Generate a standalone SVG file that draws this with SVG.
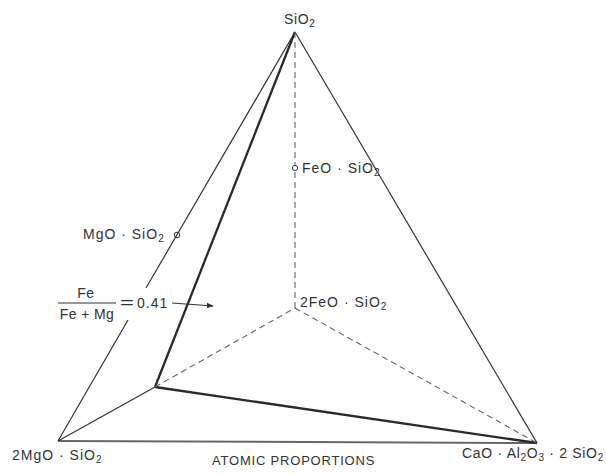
<svg xmlns="http://www.w3.org/2000/svg" width="606" height="475" viewBox="0 0 606 475">
<defs>
<style>
.t{font-family:"Liberation Sans",Arial,sans-serif;font-size:14px;fill:#333;letter-spacing:1px}
.s{font-size:10px}
.thin{stroke:#333;stroke-width:1.2;fill:none}
.thick{stroke:#2a2a2a;stroke-width:2.3;fill:none}
.dash{stroke:#666;stroke-width:1.1;stroke-dasharray:6 4;fill:none}
.base{stroke:#666;stroke-width:2;fill:none}
</style>
<marker id="ah" viewBox="0 0 10 10" refX="9" refY="5" markerWidth="7" markerHeight="7" orient="auto" markerUnits="userSpaceOnUse">
<path d="M0,1 L10,5 L0,9 Z" fill="#333"/>
</marker>
</defs>
<rect width="606" height="475" fill="#fff"/>
<g id="connectors">
<line class="thin" x1="295" y1="32" x2="146" y2="288"/>
<line class="thin" x1="128" y1="320" x2="58" y2="441"/>
<line class="thin" x1="295" y1="32" x2="537" y2="443"/>
<line class="base" x1="58" y1="441" x2="537" y2="443"/>
<line class="thin" x1="58" y1="441" x2="155" y2="387"/>
<line class="thick" x1="295" y1="32" x2="155" y2="387"/>
<line class="thick" x1="155" y1="387" x2="537" y2="443"/>
<line class="dash" x1="295" y1="32" x2="295" y2="308"/>
<line class="dash" x1="155" y1="387" x2="295" y2="308"/>
<line class="dash" x1="295" y1="308" x2="537" y2="443"/>
<line class="thin" x1="172" y1="303" x2="213" y2="306" marker-end="url(#ah)"/>
</g>
<g id="sio2"><text class="t" x="284" y="24" style="letter-spacing:0.6px">SiO<tspan class="s" dy="3">2</tspan></text></g>
<g id="feo-sio2"><circle cx="295" cy="168" r="2.6" fill="#fff" stroke="#333" stroke-width="1"/><text class="t" x="302" y="173">FeO · SiO<tspan class="s" dy="3">2</tspan></text></g>
<g id="mgo-sio2"><circle cx="177" cy="235" r="2.8" fill="none" stroke="#333" stroke-width="1"/><text class="t" x="83" y="239">MgO · SiO<tspan class="s" dy="3">2</tspan></text></g>
<g id="2feo-sio2"><text class="t" x="300" y="307">2FeO · SiO<tspan class="s" dy="3">2</tspan></text></g>
<g id="2mgo-sio2"><text class="t" x="12" y="460">2MgO · SiO<tspan class="s" dy="3">2</tspan></text></g>
<g id="cao"><text class="t" x="462" y="458" style="letter-spacing:0.7px">CaO · Al<tspan class="s" dy="3">2</tspan><tspan dy="-3">O</tspan><tspan class="s" dy="3">3</tspan><tspan dy="-3"> · 2 SiO</tspan><tspan class="s" dy="3">2</tspan></text></g>
<g id="ratio">
<text class="t" x="86" y="298" text-anchor="middle" style="letter-spacing:0.6px">Fe</text>
<line x1="58" y1="303" x2="116" y2="303" stroke="#333" stroke-width="1"/>
<text class="t" x="87" y="319" text-anchor="middle" style="letter-spacing:0.4px">Fe + Mg</text>
<text class="t" x="120" y="308" style="letter-spacing:0" textLength="14" lengthAdjust="spacingAndGlyphs">=</text>
<text class="t" x="137" y="308">0.41</text>
</g>
<g id="caption"><text class="t" x="212" y="465" style="font-size:13px;letter-spacing:0.8px">ATOMIC  PROPORTIONS</text></g>
</svg>
